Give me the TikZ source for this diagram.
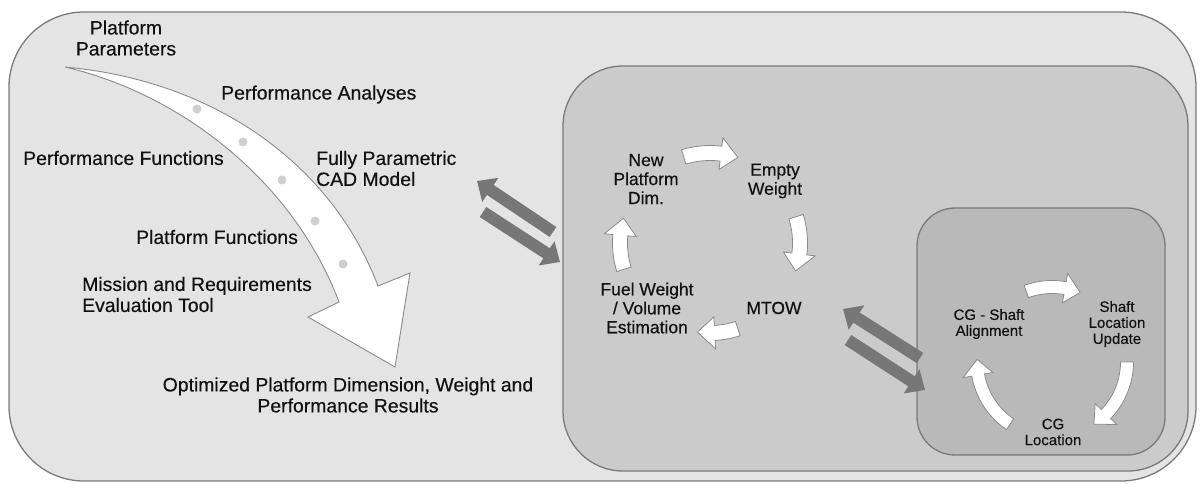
\documentclass[tikz,border=0pt]{standalone}
\usepackage{fontspec}
\setmainfont{Liberation Sans}
\newfontfamily\diagfont{Liberation Sans}[FakeBold=0.35]
\usetikzlibrary{arrows.meta}
\definecolor{outerfill}{HTML}{E4E4E4}
\definecolor{midfill}{HTML}{CBCBCB}
\definecolor{innerfill}{HTML}{B9B9B9}
\definecolor{edgegray}{HTML}{7A7A7A}
\definecolor{flowgray}{HTML}{777777}
\definecolor{dotgray}{HTML}{CFCFCF}
\definecolor{arrowedge}{HTML}{8A8A8A}
\definecolor{txt}{HTML}{111111}
% #1 cx, #2 cy, #3 R, #4 start angle, #5 tip angle, #6 half body width, #7 half head width, #8 neck angle
\newcommand\cycarrow[8]{%
  \filldraw[cycstyle] plot[domain=#4:#8, samples=14] ({#1+(#3+#6)*cos(\x)},{#2-(#3+#6)*sin(\x)})
    -- ({#1+(#3+#7)*cos(#8)},{#2-(#3+#7)*sin(#8)})
    -- ({#1+#3*cos(#5)},{#2-#3*sin(#5)})
    -- ({#1+(#3-#7)*cos(#8)},{#2-(#3-#7)*sin(#8)})
    -- plot[domain=#8:#4, samples=14] ({#1+(#3-#6)*cos(\x)},{#2-(#3-#6)*sin(\x)})
    -- cycle;}
\begin{document}
\begin{tikzpicture}[x=1pt,y=-1pt,
  panel/.style={draw=edgegray, line width=1.3pt, inner sep=0pt},
  bigtxt/.style={font=\diagfont\fontsize{19.4}{21}\selectfont, text=txt, inner sep=0pt},
  midtxt/.style={font=\diagfont\fontsize{17.5}{19}\selectfont, text=txt, inner sep=0pt, align=center},
  smalltxt/.style={font=\diagfont\fontsize{15}{16}\selectfont, text=txt, inner sep=0pt, align=center},
  flow/.style={draw=flowgray, line width=12pt, -{Triangle[length=16pt,width=28pt]}},
  cycstyle/.style={fill=white, draw=arrowedge, line width=0.8pt, line join=miter},
  dot/.style={circle, fill=dotgray, inner sep=0pt, minimum size=9pt}
]
\useasboundingbox (0,0) rectangle (1200,484);
% panels
\node[panel, fill=outerfill, rounded corners=75pt, minimum width=1187pt, minimum height=469pt] (outer) at (602.5,246.5) {};
\node[panel, fill=midfill, rounded corners=60pt, minimum width=625pt, minimum height=405pt] (mid) at (875.5,268.5) {};
\node[panel, fill=innerfill, rounded corners=38pt, minimum width=248pt, minimum height=247pt] (inner) at (1041,331.5) {};
% big curved arrow
\draw[fill=white, draw=arrowedge, line width=0.9pt, line join=miter]
  (65,67) .. controls (210,80) and (330,160) .. (378,286)
  -- (410,273) -- (395,367) -- (308,317) -- (339,302)
  .. controls (295,185) and (185,95) .. (65,67) -- cycle;
\node[dot] (d1) at (197,109) {};
\node[dot] (d2) at (243,142) {};
\node[dot] (d3) at (282,180) {};
\node[dot] (d4) at (315,221) {};
\node[dot] (d5) at (343,264) {};
% outer texts
\node[bigtxt, align=center] (pp) at (126,38) {Platform\\Parameters};
\node[bigtxt, anchor=west] (pa) at (221,94.5) {Performance Analyses};
\node[bigtxt, anchor=west] (pf) at (23,158) {Performance Functions};
\node[bigtxt, anchor=west, align=left] (cad) at (316,168.5) {Fully Parametric\\CAD Model};
\node[bigtxt, anchor=west] (plf) at (136,237) {Platform Functions};
\node[bigtxt, anchor=west, align=left] (met) at (82,294.5) {Mission and Requirements\\Evaluation Tool};
\node[bigtxt, align=center] (opt) at (348,395) {Optimized Platform Dimension, Weight and\\Performance Results};
% middle cycle
\node[midtxt] (npd) at (646,179) {New\\Platform\\Dim.};
\node[midtxt] (ew) at (775,181) {Empty\\Weight};
\node[midtxt] (mtow) at (774,308) {MTOW};
\node[midtxt] (fw) at (647,308) {Fuel Weight\\/ Volume\\Estimation};
\cycarrow{710}{243}{90}{107}{72}{7.5}{16}{83}
\cycarrow{710}{243}{90}{17}{-18}{7.5}{16}{-7}
\cycarrow{710}{243}{90}{-72}{-98}{7.5}{16}{-87}
\cycarrow{710}{243}{90}{197}{164}{7.5}{16}{175}
% inner cycle
\node[smalltxt] (cgs) at (989,324) {CG - Shaft\\Alignment};
\node[smalltxt] (slu) at (1117,324) {Shaft\\Location\\Update};
\node[smalltxt] (cgl) at (1053,432) {CG\\Location};
\cycarrow{1052}{362}{75}{110}{68}{6.5}{15}{80}
\cycarrow{1052}{362}{75}{0}{-56}{6.5}{15}{-44}
\cycarrow{1052}{362}{75}{236}{178}{6.5}{15}{190}
% exchange arrows
\coordinate (f1a) at (553,232);
\coordinate (f1b) at (477,181);
\coordinate (f2a) at (483,212);
\coordinate (f2b) at (560,262);
\coordinate (f3a) at (920,358);
\coordinate (f3b) at (843,309);
\coordinate (f4a) at (848,340);
\coordinate (f4b) at (925,390);
\draw[flow] (f1a) -- (f1b);
\draw[flow] (f2a) -- (f2b);
\draw[flow] (f3a) -- (f3b);
\draw[flow] (f4a) -- (f4b);
\end{tikzpicture}
\end{document}
